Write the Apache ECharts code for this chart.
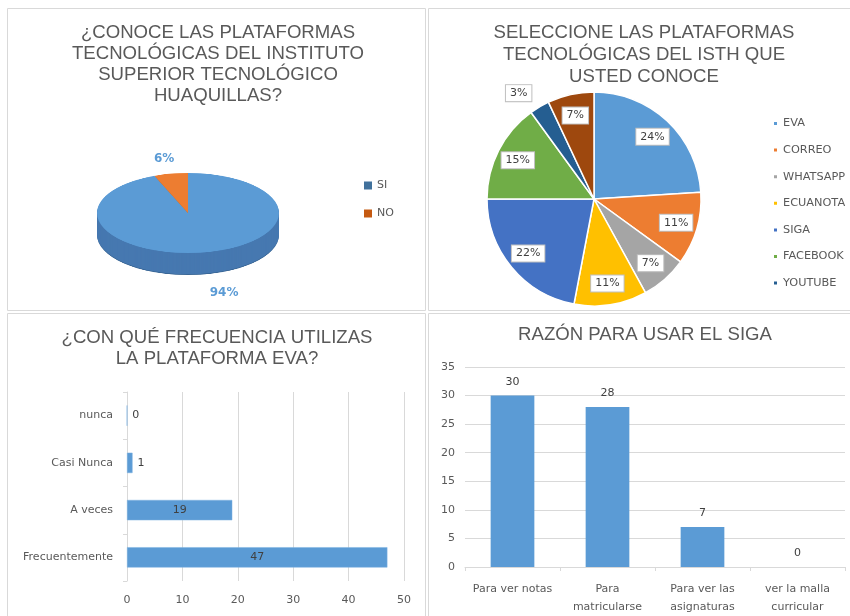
<!DOCTYPE html>
<html lang="es">
<head>
<meta charset="UTF-8">
<title>Encuesta plataformas ISTH</title>
<script src="https://cdn.jsdelivr.net/npm/echarts@6.0.0/dist/echarts.min.js"></script>
<style>
    body{ margin:0; background:#fff; }
    #main{ position:absolute; left:0; top:0; width:850px; height:616px; }
    /* pie 3D: se aplasta verticalmente para que quede eliptico */
    #pie3d{
        position:absolute; left:0; top:147px; width:425px; height:300px;
        transform-origin:0 0; transform:scaleY(0.44);
    }
</style>
</head>
<body>
<div id="main"></div>
<div id="pie3d"></div>
<script>
// datos
var conoceNames=['SI','NO'];
var conoceValues=[94,6];

var plataformas=['EVA','CORREO','WHATSAPP','ECUANOTA','SIGA','FACEBOOK','YOUTUBE','OTRAS'];
var plataformaValues=[24,11,7,11,22,15,3,7];

var frecuencias=['Frecuentemente','A veces','Casi Nunca','nunca'];
var frecuenciaValues=[47,19,1,0];

var razones=['Para ver notas','Para\nmatricularse','Para ver las\nasignaturas','ver la malla\ncurricular'];
var razonValues=[30,28,7,0];

var paleta=['#5b9bd5','#ed7d31','#a5a5a5','#ffc000','#4472c4','#70ad47','#255e91','#9e480e'];
var gris='#595959';
var fuente='DejaVu Sans';

function titulo(text,x,y,lh){
    return {
        text:text, left:x, top:y, textAlign:'center', padding:0,
        textStyle:{fontFamily:'Liberation Sans',fontSize:18.6,fontWeight:'normal',color:gris,lineHeight:lh}
    };
}
function marco(x,y,w,h){
    return {type:'rect',shape:{x:x,y:y,width:w,height:h},style:{fill:'none',stroke:'#d9d9d9',lineWidth:1},silent:true};
}

var main=echarts.init(document.getElementById('main'),null,{renderer:'canvas'});
main.setOption({
    animation:false,
    color:paleta,
    graphic:[
        marco(7.5,8.5,418,302),
        marco(428.5,8.5,430,302),
        marco(7.5,313.5,418,310),
        marco(428.5,313.5,430,310)
    ],
    title:[
        titulo('¿CONOCE LAS PLATAFORMAS\nTECNOLÓGICAS DEL INSTITUTO\nSUPERIOR TECNOLÓGICO\nHUAQUILLAS?',218,22,21),
        titulo('SELECCIONE LAS PLATAFORMAS\nTECNOLÓGICAS DEL ISTH QUE\nUSTED CONOCE',644,22,22),
        titulo('¿CON QUÉ FRECUENCIA UTILIZAS\nLA PLATAFORMA EVA?',217,327,21),
        titulo('RAZÓN PARA USAR EL SIGA',645,324,21)
    ],
    legend:[
        {
            orient:'vertical', left:359, top:175, icon:'rect',
            itemWidth:8, itemHeight:8, itemGap:17,
            textStyle:{fontFamily:fuente,fontSize:11,color:gris},
            data:[
                {name:'SI',itemStyle:{color:'#41719c',opacity:1}},
                {name:'NO',itemStyle:{color:'#c55a11',opacity:1}}
            ]
        },
        {
            orient:'vertical', left:767, top:113, icon:'rect',
            itemWidth:5, itemHeight:5, itemGap:15.6,
            textStyle:{fontFamily:fuente,fontSize:11.3,color:gris},
            data:plataformas.slice(0,7)
        }
    ],
    grid:[
        {left:127,top:392,width:277,height:189},
        {left:465,top:367,width:380,height:200}
    ],
    xAxis:[
        {
            gridIndex:0, type:'value', min:0, max:50, interval:10,
            axisLine:{show:false}, axisTick:{show:false},
            splitLine:{lineStyle:{color:'#d9d9d9'}},
            axisLabel:{fontFamily:fuente,fontSize:11,color:gris,margin:14}
        },
        {
            gridIndex:1, type:'category', data:razones,
            axisLine:{lineStyle:{color:'#d9d9d9'}},
            axisTick:{show:true,length:4,lineStyle:{color:'#d9d9d9'}},
            axisLabel:{fontFamily:fuente,fontSize:11,color:gris,margin:13,lineHeight:18,interval:0}
        }
    ],
    yAxis:[
        {
            gridIndex:0, type:'category', data:frecuencias,
            axisLine:{lineStyle:{color:'#d9d9d9'}},
            axisTick:{show:true,length:4,lineStyle:{color:'#d9d9d9'}},
            axisLabel:{fontFamily:fuente,fontSize:11,color:gris,margin:14}
        },
        {
            gridIndex:1, type:'value', min:0, max:35, interval:5,
            axisLine:{show:false}, axisTick:{show:false},
            splitLine:{lineStyle:{color:'#d9d9d9'}},
            axisLabel:{fontFamily:fuente,fontSize:11,color:gris,margin:10}
        }
    ],
    series:[
        // solo etiquetas del pie 3D (el dibujo va en #pie3d)
        {
            type:'pie', center:[192,226], radius:68, silent:true,
            avoidLabelOverlap:false,
            itemStyle:{color:'rgba(0,0,0,0)'},
            label:{show:true,position:'outside',formatter:'{c}%',distanceToLabelLine:5,
                fontFamily:fuente,fontSize:12,fontWeight:'bold',color:'#5b9bd5'},
            labelLine:{show:false,length:0,length2:0},
            data:conoceNames.map(function(n,i){return {name:n,value:conoceValues[i]};})
        },
        {
            type:'pie', center:[594,199], radius:107, silent:true,
            itemStyle:{borderColor:'#fff',borderWidth:1.5},
            label:{show:false}, labelLine:{show:false},
            data:plataformas.map(function(n,i){return {name:n,value:plataformaValues[i]};})
        },
        // capa transparente para poner las etiquetas a 0.8 del radio
        {
            type:'pie', center:[594,199], radius:[58,107], silent:true,
            avoidLabelOverlap:false,
            itemStyle:{color:'rgba(0,0,0,0)'},
            label:{show:true,position:'inside',formatter:'{c}%',
                fontFamily:fuente,fontSize:11,color:'#404040',
                backgroundColor:'#fff',borderColor:'#bfbfbf',borderWidth:1,padding:[3,4,2,4]},
            labelLine:{show:false},
            data:plataformas.map(function(n,i){
                var d={name:n,value:plataformaValues[i]};
                if(plataformaValues[i]<5){
                    d.label={position:'outside',distanceToLabelLine:0};
                    d.labelLine={show:false,length:16,length2:0};
                }
                return d;
            })
        },
        {
            type:'bar', xAxisIndex:0, yAxisIndex:0, barWidth:'43%',
            itemStyle:{color:'#5b9bd5',borderColor:'#7fb2e0',borderWidth:0.5},
            data:frecuenciaValues.map(function(v){
                return {value:v,label:{position:v<5?'right':'inside'}};
            }),
            label:{show:true,fontFamily:fuente,fontSize:11,color:'#404040'}
        },
        {
            type:'bar', xAxisIndex:1, yAxisIndex:1, barWidth:'46%',
            itemStyle:{color:'#5b9bd5'},
            data:razonValues,
            label:{show:true,position:'top',distance:8,fontFamily:fuente,fontSize:11,color:'#404040'}
        }
    ]
});

// pie 3D: varias capas oscuras debajo simulan el borde
// (el color va en cada dato: la paleta se comparte por nombre entre series)
function capaPie(cy,colores,z){
    return {
        type:'pie', center:[188,cy], radius:91, silent:true, z:z,
        label:{show:false}, labelLine:{show:false},
        data:conoceNames.map(function(n,i){
            return {name:n,value:conoceValues[i],itemStyle:{color:colores[i]}};
        })
    };
}
var pie3d=echarts.init(document.getElementById('pie3d'));
var capas=[];
var nivel=1;
for(var t=50;t>0;t-=2){
    capas.push(capaPie(150+t, t>=49?['#3a6796','#9c4f1b']:['#4678b0','#b95f22'], nivel++));
}
capas.push(capaPie(150,['#5b9bd5','#ed7d31'],nivel));
pie3d.setOption({animation:false,series:capas});
</script>
</body>
</html>
